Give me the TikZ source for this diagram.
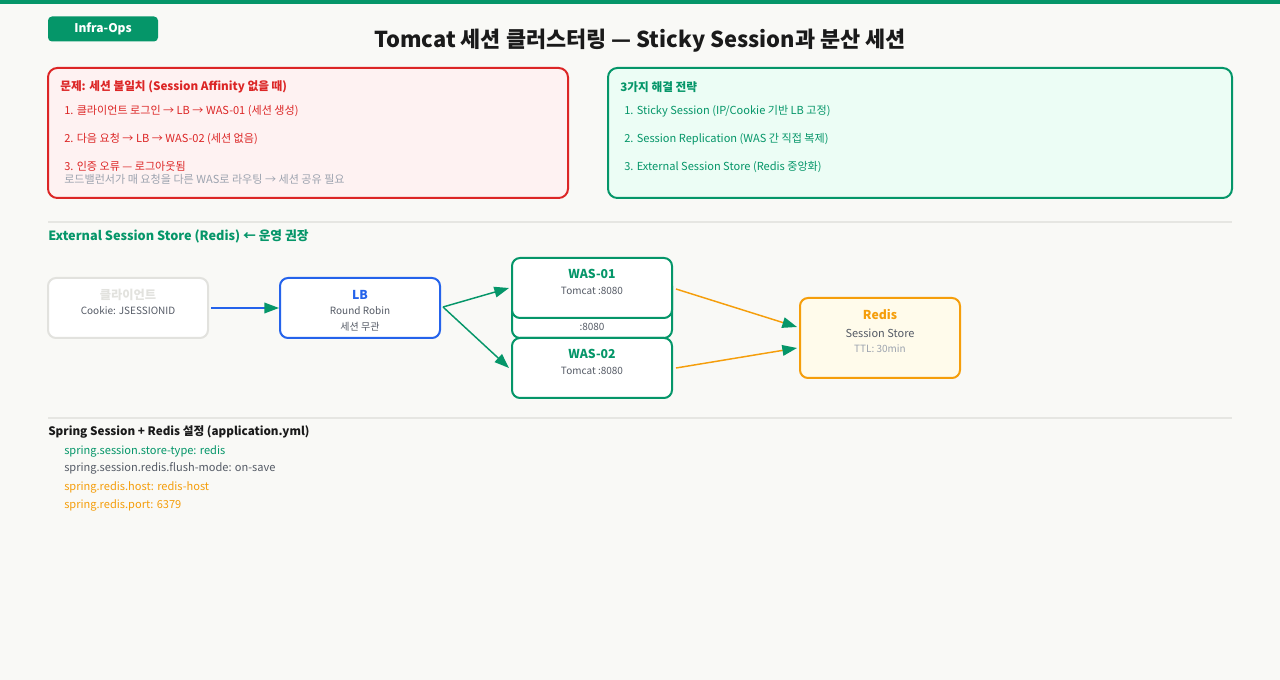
\documentclass[tikz,border=0pt]{standalone}
\usepackage{fontspec}
\setmainfont{Noto Sans CJK KR}
\usetikzlibrary{arrows.meta,calc}
\definecolor{bg}{HTML}{F9F9F6}
\definecolor{grn}{HTML}{059669}
\definecolor{grnfill}{HTML}{ECFDF5}
\definecolor{red}{HTML}{DC2626}
\definecolor{redfill}{HTML}{FEF2F2}
\definecolor{blu}{HTML}{2563EB}
\definecolor{org}{HTML}{F59E0B}
\definecolor{orgfill}{HTML}{FFFBEB}
\definecolor{ink}{HTML}{1A1A1A}
\definecolor{mid}{HTML}{555B66}
\definecolor{lite}{HTML}{9CA3AF}
\definecolor{sep}{HTML}{E6E6E2}
\definecolor{ghost}{HTML}{E2E2DE}
\begin{document}
\begin{tikzpicture}[x=0.75pt,y=-0.75pt]
\tikzset{
  txt/.style={inner sep=0pt, anchor=west},
  ctxt/.style={inner sep=0pt, anchor=center},
  panel/.style={draw, rounded corners=7pt, line width=1.5pt, minimum height=97.5pt, inner sep=0pt},
  nbox/.style={draw, rounded corners=6pt, line width=1.5pt, minimum width=120pt, minimum height=45pt, fill=white, inner sep=0pt},
  arr/.style={line width=1.1pt, -{Triangle[length=11pt,width=8pt,color=grn]}},
  ttl/.style={font=\fontsize{9.2pt}{11pt}\selectfont\bfseries},
  sub/.style={font=\fontsize{7.5pt}{9pt}\selectfont},
  item/.style={font=\fontsize{8.3pt}{10pt}\selectfont},
}
\useasboundingbox[fill=bg] (0,0) rectangle (1280,680);
\fill[grn] (0,0) rectangle (1280,4);

% badge and title
\node[fill=grn, rounded corners=3pt, minimum width=82.5pt, minimum height=18.75pt, inner sep=0pt,
      text=white, font=\fontsize{9pt}{11pt}\selectfont\bfseries] (badge) at (103,29) {Infra-Ops};
\node[ctxt, text=ink, font=\fontsize{16.4pt}{20pt}\selectfont\bfseries] (title) at (640,41) {Tomcat 세션 클러스터링 — Sticky Session과 분산 세션};

% problem panel
\node[panel, draw=red, fill=redfill, minimum width=390pt] (prob) at (308,133) {};
\node[txt, text=red, font=\fontsize{8.75pt}{11pt}\selectfont\bfseries] (probt) at (60,87) {문제: 세션 불일치 (Session Affinity 없을 때)};
\node[txt, item, text=red] (p1) at (64,111) {1. 클라이언트 로그인 → LB → WAS-01 (세션 생성)};
\node[txt, item, text=red] (p2) at (64,139) {2. 다음 요청 → LB → WAS-02 (세션 없음)};
\node[txt, item, text=red] (p3) at (64,166) {3. 인증 오류 — 로그아웃됨};
\node[txt, item, text=lite] (p4) at (64,179) {로드밸런서가 매 요청을 다른 WAS로 라우팅 → 세션 공유 필요};

% solution panel
\node[panel, draw=grn, fill=grnfill, minimum width=468pt] (sol) at (920,133) {};
\node[txt, text=grn, font=\fontsize{8.75pt}{11pt}\selectfont\bfseries] (solt) at (620,87) {3가지 해결 전략};
\node[txt, item, text=grn] (s1) at (624,111) {1. Sticky Session (IP/Cookie 기반 LB 고정)};
\node[txt, item, text=grn] (s2) at (624,139) {2. Session Replication (WAS 간 직접 복제)};
\node[txt, item, text=grn] (s3) at (624,167) {3. External Session Store (Redis 중앙화)};

% separator and section header
\draw[sep, line width=1.5pt] (48,222) -- (1232,222);
\node[txt, text=grn, font=\fontsize{9.55pt}{12pt}\selectfont\bfseries] (sect) at (48,236) {External Session Store (Redis) ← 운영 권장};

% nodes
\node[nbox, draw=ghost] (client) at (128,308) {};
\node[ctxt, ttl, text=ghost] (clientt) at (128,295) {클라이언트};
\node[ctxt, sub, text=mid] (clients) at (128,311) {Cookie: JSESSIONID};

\node[nbox, draw=blu] (lb) at (360,308) {};
\node[ctxt, ttl, text=blu] (lbt) at (360,295) {LB};
\node[ctxt, sub, text=mid] (lbs1) at (360,311) {Round Robin};
\node[ctxt, sub, text=mid] (lbs2) at (360,327) {세션 무관};

\node[nbox, draw=grn] (back) at (592,308) {};
\node[ctxt, sub, text=mid] (backs) at (592,327) {:8080};

\node[nbox, draw=grn] (w1) at (592,288) {};
\node[ctxt, ttl, text=grn] (w1t) at (592,274) {WAS-01};
\node[ctxt, sub, text=mid] (w1s) at (592,291) {Tomcat :8080};

\node[nbox, draw=grn] (w2) at (592,368) {};
\node[ctxt, ttl, text=grn] (w2t) at (592,354) {WAS-02};
\node[ctxt, sub, text=mid] (w2s) at (592,371) {Tomcat :8080};

\node[nbox, draw=org, fill=orgfill, minimum height=60pt] (redis) at (880,338) {};
\node[ctxt, ttl, text=org] (redist) at (880,314) {Redis};
\node[ctxt, font=\fontsize{8.25pt}{10pt}\selectfont, text=mid] (rediss1) at (880,333) {Session Store};
\node[ctxt, sub, text=lite] (rediss2) at (880,349) {TTL: 30min};

% connectors
\draw[arr, blu] ($(client.east)+(2,0)$) -- (lb.west);
\draw[arr, grn] ($(lb.east)+(2,-1)$) -- ($(w1.west)+(-2,0)$);
\draw[arr, grn] ($(lb.east)+(2,-1)$) -- ($(w2.west)+(-2,0)$);
\draw[arr, org] ($(w1.east)+(3,1)$) -- ($(redis.west)+(-2,-11)$);
\draw[arr, org] ($(w2.east)+(3,0)$) -- ($(redis.west)+(-2,10)$);

% spring config
\draw[sep, line width=1.5pt] (48,418) -- (1232,418);
\node[txt, text=ink, font=\fontsize{8.75pt}{11pt}\selectfont\bfseries] (cfgt) at (48,432) {Spring Session + Redis 설정 (application.yml)};
\node[txt, item, text=grn] (c1) at (64,451) {spring.session.store-type: redis};
\node[txt, item, text=mid] (c2) at (64,468) {spring.session.redis.flush-mode: on-save};
\node[txt, item, text=org] (c3) at (64,487) {spring.redis.host: redis-host};
\node[txt, item, text=org] (c4) at (64,505) {spring.redis.port: 6379};
\end{tikzpicture}
\end{document}
